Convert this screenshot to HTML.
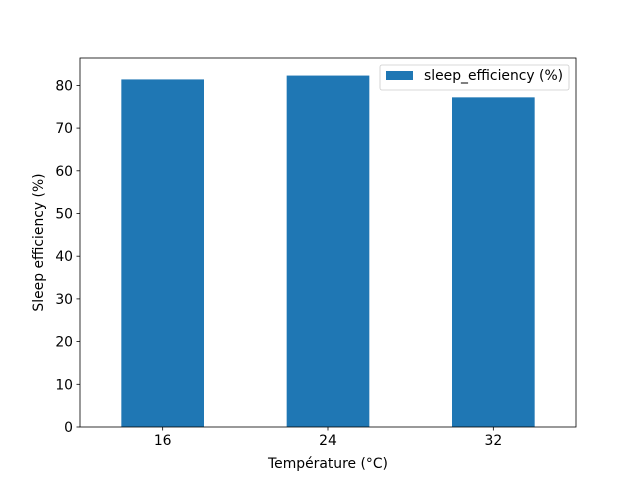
<!DOCTYPE html>
<html><head><meta charset="utf-8"><style>body{margin:0;background:#fff}svg{display:block;font-family:"DejaVu Sans","Liberation Sans",sans-serif}</style></head>
<body>
<svg id="chart" width="640" height="480" viewBox="0 0 640 480" xmlns="http://www.w3.org/2000/svg">
<rect width="640" height="480" fill="#fff"/>
<g id="bars"></g>
<g id="axes"></g>
<rect x="80" y="58" width="496" height="369" fill="none" stroke="#000" stroke-width="0.8"/>
<text x="328" y="468" font-size="13.9" text-anchor="middle">Température (°C)</text>
<text transform="translate(43,242.5) rotate(-90)" font-size="13.9" text-anchor="middle">Sleep efficiency (%)</text>
<g>
<rect x="380" y="65" width="189" height="25" rx="2" fill="#fff" fill-opacity="0.8" stroke="#ccc" stroke-width="0.8"/>
<rect x="386" y="71" width="27" height="9" fill="#1f77b4"/>
<text x="424" y="80" font-size="13.9">sleep_efficiency (%)</text>
</g>
</svg>
<script>
const categories = ["16", "24", "32"];
const values = [81.4, 82.3, 77.2];
const yTicks = [0, 10, 20, 30, 40, 50, 60, 70, 80];
const NS = "http://www.w3.org/2000/svg";
const L = 80, R = 576, T = 58, B = 427;
const yMax = Math.max(...values) * 1.05;
const xScale = i => L + (i + 0.5) * (R - L) / categories.length;
const yScale = v => B - v / yMax * (B - T);
const bw = 0.5 * (R - L) / categories.length;
const bars = document.getElementById('bars'), axes = document.getElementById('axes');
function mk(tag, attrs, parent) { const e = document.createElementNS(NS, tag); for (const k in attrs) e.setAttribute(k, attrs[k]); parent.appendChild(e); return e; }
values.forEach((v, i) => {
  const r = mk('rect', {x: xScale(i) - bw / 2, y: yScale(v), width: bw, height: B - yScale(v), fill: '#1f77b4'}, bars);
  
  
});
categories.forEach((c, i) => {
  const x = xScale(i);
  mk('line', {x1: x, x2: x, y1: B, y2: B + 3.5, stroke: '#000', 'stroke-width': 0.8}, axes);
  const t = mk('text', {x: x, y: B + 18, 'font-size': 13.9, 'text-anchor': 'middle'}, axes);
  t.textContent = c;
  
  
});
yTicks.forEach(v => {
  const y = yScale(v);
  mk('line', {x1: L - 3.5, x2: L, y1: y, y2: y, stroke: '#000', 'stroke-width': 0.8}, axes);
  const t = mk('text', {x: L - 7, y: y + 5, 'font-size': 13.9, 'text-anchor': 'end'}, axes);
  t.textContent = v;
  
  
});
</script>
</body></html>
